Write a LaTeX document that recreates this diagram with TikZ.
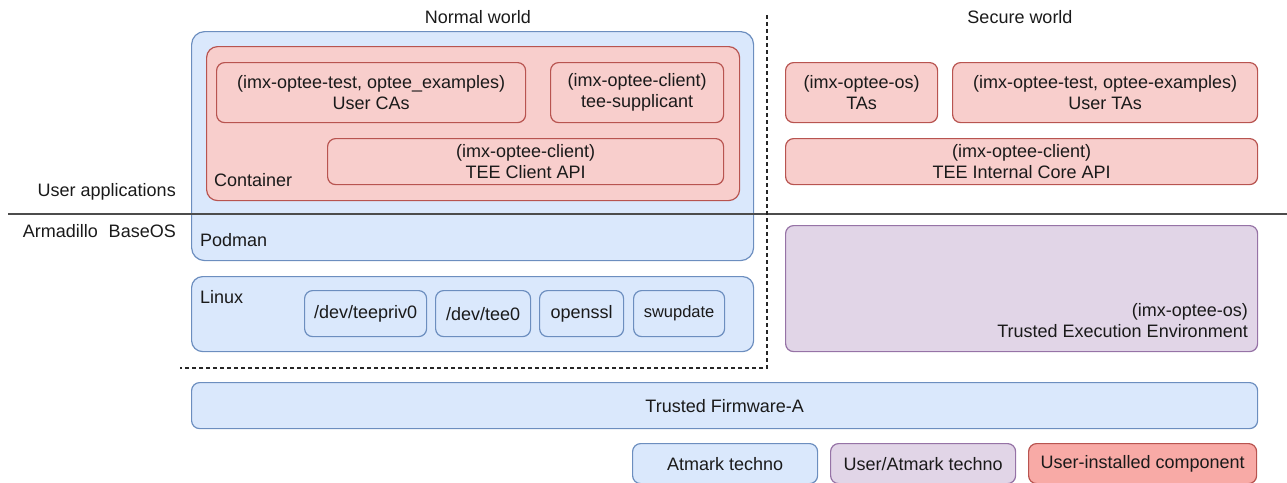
\documentclass[tikz,border=0pt]{standalone}
\usepackage{fontspec}
\setmainfont{Liberation Sans}
\definecolor{bfill}{HTML}{DAE8FC}
\definecolor{bline}{HTML}{6C8EBF}
\definecolor{rfill}{HTML}{F8CECC}
\definecolor{rline}{HTML}{B85450}
\definecolor{pfill}{HTML}{E1D5E7}
\definecolor{pline}{HTML}{9673A6}
\definecolor{lrfill}{HTML}{F8AAA6}
\definecolor{txt}{HTML}{1A1A1A}
\begin{document}
\begin{tikzpicture}[x=1pt,y=-1pt,
  every node/.style={text=txt, font=\fontsize{18}{21}\selectfont},
  box/.style={anchor=north west, rounded corners=8pt, line width=1.2pt, inner sep=0pt, align=center},
  bluebox/.style={box, draw=bline, fill=bfill},
  redbox/.style={box, draw=rline, fill=rfill},
  purplebox/.style={box, draw=pline, fill=pfill},
  legred/.style={box, draw=rline, fill=lrfill},
  lbl/.style={inner sep=0pt},
  sep/.style={draw=black!70, line width=1.5pt},
  world/.style={draw=black!85, line width=1.6pt, dash pattern=on 4pt off 3pt}
]
\useasboundingbox (0,0) rectangle (1287,482);

% titles
\node[lbl] (nw) at (478,17) {Normal world};
\node[lbl] (sw) at (1020,17) {Secure world};

% normal world
\node[bluebox, rounded corners=13pt, minimum width=562pt, minimum height=229pt] (podman) at (191,31) {};
\node[redbox, rounded corners=11pt, minimum width=533pt, minimum height=154pt] (container) at (206,46) {};
\node[redbox, minimum width=309pt, minimum height=60pt] (ucas) at (216,62) {(imx-optee-test, optee\_examples)\\User CAs};
\node[redbox, minimum width=173pt, minimum height=60pt] (supp) at (550,62) {(imx-optee-client)\\tee-supplicant};
\node[redbox, minimum width=396pt, minimum height=46pt] (capi) at (327,138) {(imx-optee-client)\\TEE Client API};
\node[lbl, anchor=west] (contlbl) at (214,180) {Container};
\node[lbl, anchor=west] (podlbl) at (200,240) {Podman};

\node[bluebox, rounded corners=11pt, minimum width=562pt, minimum height=75pt] (linux) at (191,276) {};
\node[lbl, anchor=west] (linlbl) at (200,297) {Linux};
\node[bluebox, minimum width=122pt, minimum height=46pt] (tp) at (304,290) {/dev/teepriv0};
\node[bluebox, minimum width=95pt, minimum height=46pt] (t0) at (435,290) {/dev/tee0};
\node[bluebox, minimum width=84pt, minimum height=46pt] (ssl) at (539,290) {openssl};
\node[bluebox, minimum width=91pt, minimum height=46pt, font=\fontsize{16.5}{19}\selectfont] (swu) at (633,290) {\raisebox{1.5pt}{swupdate}};

% secure world
\node[redbox, minimum width=152pt, minimum height=60pt] (tas) at (785,62) {(imx-optee-os)\\TAs};
\node[redbox, minimum width=305pt, minimum height=60pt] (utas) at (952,62) {(imx-optee-test, optee-examples)\\User TAs};
\node[redbox, minimum width=472pt, minimum height=46pt] (icapi) at (785,138) {(imx-optee-client)\\TEE Internal Core API};
\node[purplebox, minimum width=472pt, minimum height=126pt] (tee) at (785,225) {};
\node[lbl, anchor=east, align=right] (teelbl) at (1248,320.5) {(imx-optee-os)\\Trusted Execution Environment};

% firmware
\node[bluebox, minimum width=1066pt, minimum height=46pt] (tfa) at (191,382) {Trusted Firmware-A};

% legend
\node[bluebox, minimum width=185pt, minimum height=40pt] (lg1) at (632,443) {Atmark techno};
\node[purplebox, minimum width=185pt, minimum height=40pt] (lg2) at (830,443) {User/Atmark techno};
\node[legred, minimum width=228pt, minimum height=40pt] (lg3) at (1028,443) {User-installed component};

% layer separator
\coordinate (sepL) at (8,214);
\coordinate (sepR) at (1287,214);
\draw[sep] (sepL) -- (sepR);
\node[lbl, anchor=east] (ua) at (176,192) {User applications};
\node[lbl, anchor=east] (bos) at (176,231) {Armadillo\hspace{0.6em}BaseOS};

% world boundary
\coordinate (wTop) at (767,15);
\coordinate (wCorner) at (767,368);
\coordinate (wLeft) at (180,368);
\draw[world] (wTop) -- (wCorner) -- (wLeft);
\end{tikzpicture}
\end{document}
